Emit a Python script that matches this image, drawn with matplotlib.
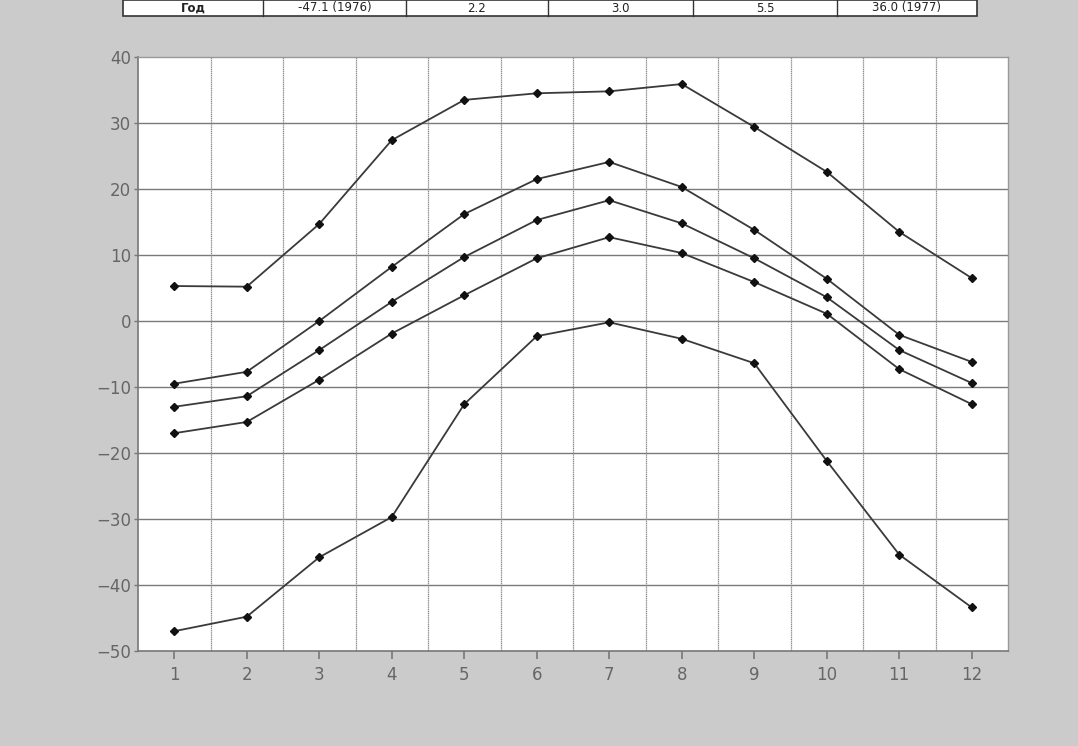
import matplotlib
matplotlib.use("Agg")
import matplotlib.pyplot as plt
from matplotlib.patches import Rectangle

months = list(range(1, 13))
abs_max = [5.3, 5.2, 14.7, 27.4, 33.5, 34.5, 34.8, 35.9, 29.4, 22.6, 13.5, 6.5]
mean_max = [-9.5, -7.7, 0.0, 8.2, 16.2, 21.5, 24.1, 20.3, 13.8, 6.4, -2.1, -6.2]
mean_t = [-13.0, -11.4, -4.4, 2.9, 9.7, 15.3, 18.3, 14.8, 9.5, 3.6, -4.4, -9.4]
mean_min = [-17.0, -15.3, -8.9, -1.9, 3.9, 9.5, 12.7, 10.3, 5.9, 1.1, -7.3, -12.6]
abs_min = [-47.0, -44.8, -35.8, -29.7, -12.6, -2.3, -0.2, -2.7, -6.4, -21.2, -35.4, -43.4]
series = [abs_max, mean_max, mean_t, mean_min, abs_min]

y_ticks = [-50, -40, -30, -20, -10, 0, 10, 20, 30, 40]
table_cells = ["Год", "-47.1 (1976)", "2.2", "3.0", "5.5", "36.0 (1977)"]

W, H = 1078, 746
fig = plt.figure(figsize=(W / 100, H / 100), dpi=100)
fig.patch.set_facecolor("#cbcbcb")

# table row at top (partially shown in the reference)
row_h = 16
bounds = [123, 263, 406, 548, 693, 837, 977]
fig.add_artist(Rectangle((bounds[0] / W, 1 - row_h / H), (bounds[-1] - bounds[0]) / W, row_h / H,
                         transform=fig.transFigure, facecolor="white", edgecolor="#333333", lw=1.2))
for xb in bounds[1:-1]:
    fig.add_artist(plt.Line2D([xb / W, xb / W], [1 - row_h / H, 1], transform=fig.transFigure,
                              color="#333333", lw=1.0))
for i, txt in enumerate(table_cells):
    cx = (bounds[i] + bounds[i + 1]) / 2 / W
    fig.text(cx, 1 - (row_h / 2) / H, txt, ha="center", va="center", fontsize=8.5,
             fontweight="bold" if i == 0 else "normal", color="#222222")

ax = fig.add_axes([138 / W, 1 - 651 / H, (1008 - 138) / W, (651 - 57) / H])
ax.set_facecolor("white")
for s in series:
    ax.plot(months, s, color="#3a3a3a", lw=1.3, marker="D", markersize=4.5,
            markerfacecolor="#111111", markeredgecolor="#111111", zorder=3)

ax.set_xlim(0.5, 12.5)
ax.set_ylim(-50, 40)
ax.set_xticks(months)
ax.set_xticklabels([str(m) for m in months])
ax.set_yticks(y_ticks)
ax.set_yticklabels([str(v).replace("-", "\u2212") for v in y_ticks])
for v in y_ticks[1:-1]:
    ax.axhline(v, color="#7a7a7a", lw=1.0, zorder=1)
for m in months[:-1]:
    ax.axvline(m + 0.5, color="#8a8a8a", lw=0.9, ls=(0, (1, 0.5)), zorder=1)

for sp in ["left", "bottom"]:
    ax.spines[sp].set_color("#777777")
    ax.spines[sp].set_linewidth(1.2)
for sp in ["right", "top"]:
    ax.spines[sp].set_color("#999999")
    ax.spines[sp].set_linewidth(1.0)
ax.tick_params(axis="x", direction="out", length=6, width=1.2, colors="#777777",
               labelsize=12, labelcolor="#666666", pad=5)
ax.tick_params(axis="y", direction="out", length=3, width=1.0, colors="#777777",
               labelsize=12, labelcolor="#666666", pad=2)

fig.savefig("out.png", dpi=100, facecolor=fig.get_facecolor())
